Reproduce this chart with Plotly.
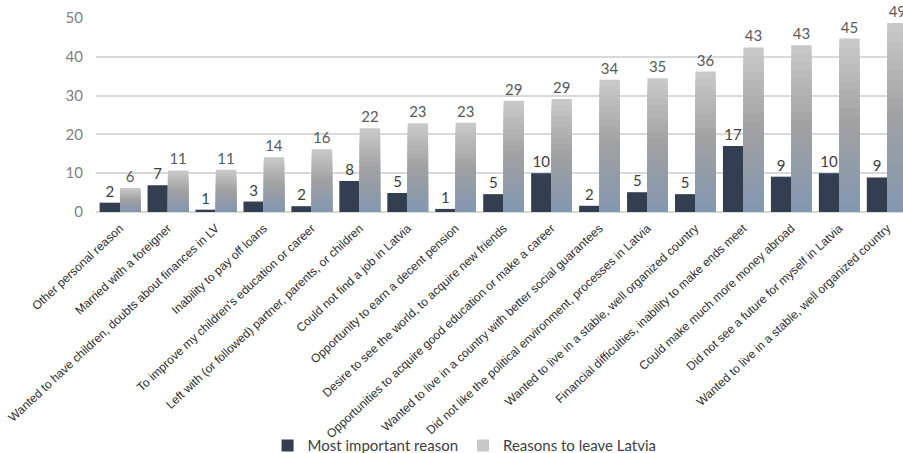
import plotly.graph_objects as go

categories = [
    "Other personal reason",
    "Married with a foreigner",
    "Wanted to have children, doubts about finances in LV",
    "Inability to pay off loans",
    "To improve my children's education or career",
    "Left with (or followed) partner, parents, or children",
    "Could not find a job in Latvia",
    "Opportunity to earn a decent pension",
    "Desire to see the world, to acquire new friends",
    "Opportunities to acquire good education or make a career",
    "Wanted to live in a country with better social guarantees",
    "Did not like the political environment, processes in Latvia",
    "Wanted to live in a stable, well organized country",
    "Financial difficulties, inability to make ends meet",
    "Could make much more money abroad",
    "Did not see a future for myself in Latvia",
    "Wanted to live in a stable, well organized country",
]
most_important = [2.4, 6.9, 0.6, 2.7, 1.5, 8.0, 4.9, 0.8, 4.6, 10.0, 1.6, 5.1, 4.6, 17.0, 9.1, 10.0, 8.9]
most_important_labels = [2, 7, 1, 3, 2, 8, 5, 1, 5, 10, 2, 5, 5, 17, 9, 10, 9]
reasons = [6.2, 10.7, 10.9, 14.1, 16.2, 21.6, 22.9, 23.0, 28.7, 29.1, 34.1, 34.5, 36.2, 42.4, 43.0, 44.7, 48.7]
reasons_labels = [6, 11, 11, 14, 16, 22, 23, 23, 29, 29, 34, 35, 36, 43, 43, 45, 49]
y_ticks = [0, 10, 20, 30, 40, 50]

x = list(range(len(categories)))

# vertical gradient stops (top -> bottom) used to shade the light bars
grad_stops = [(0.0, (200, 200, 200)), (0.5, (160, 160, 162)), (1.0, (132, 151, 176))]
n_seg = 20


def grad_color(t):
    for (t0, c0), (t1, c1) in zip(grad_stops[:-1], grad_stops[1:]):
        if t0 <= t <= t1:
            f = (t - t0) / (t1 - t0)
            c = [round(a + (b - a) * f) for a, b in zip(c0, c1)]
            return "rgb(%d,%d,%d)" % tuple(c)
    return "rgb(%d,%d,%d)" % grad_stops[-1][1]


fig = go.Figure()

fig.add_trace(go.Bar(
    x=x, y=most_important, name="Most important reason",
    marker=dict(color="#333f50", line=dict(width=0)),
    offsetgroup="a",
    text=[str(v) for v in most_important_labels], textposition="outside",
    textfont=dict(family="Lato", size=15, color="#404040"),
    cliponaxis=False,
))

for k in range(n_seg):
    frac = 1 - k / n_seg
    t = k / (n_seg - 1)
    first = k == 0
    fig.add_trace(go.Bar(
        x=x, y=[v * frac for v in reasons],
        name="Reasons to leave Latvia",
        marker=dict(color=grad_color(t), line=dict(width=0)),
        offsetgroup="b",
        showlegend=first,
        text=[str(v) for v in reasons_labels] if first else None,
        textposition="outside" if first else "none",
        textfont=dict(family="Lato", size=15, color="#595959"),
        cliponaxis=False,
        hoverinfo="skip" if not first else None,
    ))

fig.update_layout(
    width=903, height=453,
    margin=dict(l=96, r=0, t=18, b=241, autoexpand=False),
    paper_bgcolor="white", plot_bgcolor="white",
    barmode="group", bargap=0.15, bargroupgap=0.0,
    font=dict(family="Lato", size=15, color="#404040"),
    showlegend=True,
    legend=dict(
        orientation="h", x=0.2126, xanchor="left", y=-1.12, yanchor="top",
        font=dict(family="Lato", size=15, color="#404040"),
        itemsizing="constant", traceorder="normal",
        bgcolor="rgba(0,0,0,0)",
    ),
)

fig.update_xaxes(
    tickmode="array", tickvals=x, ticktext=categories,
    tickangle=-43, range=[-0.5, 16.33],
    tickfont=dict(family="Liberation Sans Narrow, Liberation Sans, Arial", size=12, color="#2b2b2b"),
    showgrid=False, showline=False, ticks="", zeroline=False,
    ticklabelstandoff=6, automargin=False,
)
fig.update_yaxes(
    range=[0, 50], tickvals=y_ticks,
    tickfont=dict(family="Lato", size=15, color="#808080"),
    showgrid=True, gridcolor="#d9d9d9", gridwidth=1.5,
    zeroline=True, zerolinecolor="#d9d9d9", zerolinewidth=1.5,
    ticks="", ticklabelstandoff=12, automargin=False,
)

fig.write_html("out.html")
